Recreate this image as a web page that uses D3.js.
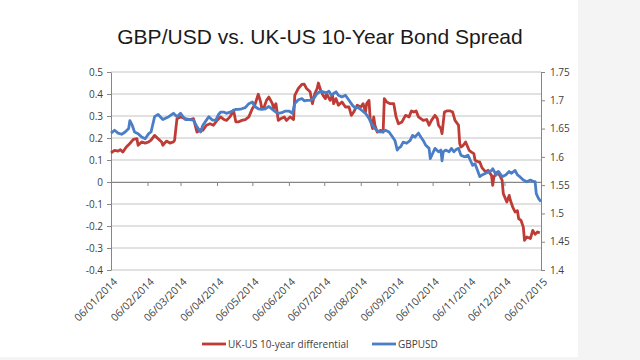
<!DOCTYPE html>
<html><head><meta charset="utf-8">
<script src="https://cdn.jsdelivr.net/npm/d3@7"></script>
<style>body{margin:0;background:#fff} svg{display:block}</style>
</head><body><svg id="c" width="640" height="360"></svg>
<script>
const title = "GBP/USD vs. UK-US 10-Year Bond Spread";
const seriesNames = ["UK-US 10-year differential", "GBPUSD"];
const leftTicks = [0.5, 0.4, 0.3, 0.2, 0.1, 0, -0.1, -0.2, -0.3, -0.4];
const rightTicks = [1.75, 1.7, 1.65, 1.6, 1.55, 1.5, 1.45, 1.4];
const xTickLabels = ["06/01/2014","06/02/2014","06/03/2014","06/04/2014","06/05/2014","06/06/2014","06/07/2014","06/08/2014","06/09/2014","06/10/2014","06/11/2014","06/12/2014","06/01/2015"];

const spreadDates = ["2014-01-06","2014-01-09","2014-01-12","2014-01-14","2014-01-16","2014-01-19","2014-01-22","2014-01-25","2014-01-28","2014-01-29","2014-02-01","2014-02-04","2014-02-07","2014-02-09","2014-02-12","2014-02-15","2014-02-18","2014-02-19","2014-02-22","2014-02-25","2014-02-28","2014-03-01","2014-03-03","2014-03-06","2014-03-10","2014-03-14","2014-03-17","2014-03-20","2014-03-23","2014-03-25","2014-03-28","2014-03-31","2014-04-03","2014-04-06","2014-04-09","2014-04-12","2014-04-14","2014-04-17","2014-04-20","2014-04-22","2014-04-24","2014-04-27","2014-04-30","2014-05-03","2014-05-06","2014-05-08","2014-05-11","2014-05-13","2014-05-14","2014-05-16","2014-05-18","2014-05-20","2014-05-23","2014-05-24","2014-05-26","2014-05-28","2014-05-30","2014-06-02","2014-06-04","2014-06-07","2014-06-10","2014-06-11","2014-06-14","2014-06-17","2014-06-19","2014-06-21","2014-06-24","2014-06-26","2014-06-28","2014-06-30","2014-07-01","2014-07-03","2014-07-05","2014-07-07","2014-07-08","2014-07-11","2014-07-13","2014-07-14","2014-07-16","2014-07-18","2014-07-21","2014-07-24","2014-07-27","2014-07-29","2014-07-31","2014-08-03","2014-08-06","2014-08-08","2014-08-10","2014-08-11","2014-08-13","2014-08-14","2014-08-16","2014-08-17","2014-08-18","2014-08-20","2014-08-23","2014-08-25","2014-08-26","2014-08-28","2014-08-31","2014-09-03","2014-09-05","2014-09-07","2014-09-10","2014-09-13","2014-09-16","2014-09-18","2014-09-20","2014-09-22","2014-09-24","2014-09-26","2014-09-28","2014-10-01","2014-10-03","2014-10-05","2014-10-08","2014-10-10","2014-10-11","2014-10-13","2014-10-14","2014-10-16","2014-10-18","2014-10-21","2014-10-23","2014-10-25","2014-10-28","2014-10-29","2014-10-30","2014-11-01","2014-11-03","2014-11-06","2014-11-08","2014-11-10","2014-11-11","2014-11-14","2014-11-15","2014-11-17","2014-11-20","2014-11-22","2014-11-25","2014-11-26","2014-11-27","2014-11-30","2014-12-02","2014-12-04","2014-12-05","2014-12-08","2014-12-10","2014-12-11","2014-12-13","2014-12-15","2014-12-17","2014-12-18","2014-12-20","2014-12-22","2014-12-23","2014-12-25","2014-12-28","2014-12-30","2015-01-01","2015-01-03","2015-01-05"];
const spreadValues = [0.132,0.144,0.14,0.147,0.136,0.159,0.175,0.194,0.197,0.167,0.182,0.177,0.182,0.19,0.212,0.197,0.182,0.167,0.186,0.177,0.182,0.19,0.288,0.296,0.288,0.284,0.288,0.227,0.238,0.235,0.258,0.265,0.258,0.28,0.296,0.284,0.28,0.296,0.326,0.273,0.273,0.28,0.284,0.296,0.334,0.349,0.399,0.364,0.334,0.341,0.371,0.386,0.356,0.334,0.356,0.28,0.288,0.296,0.28,0.296,0.284,0.394,0.425,0.444,0.445,0.425,0.41,0.356,0.402,0.425,0.45,0.417,0.394,0.379,0.402,0.371,0.394,0.356,0.379,0.349,0.364,0.341,0.341,0.303,0.318,0.349,0.341,0.356,0.318,0.356,0.371,0.288,0.243,0.296,0.258,0.227,0.235,0.227,0.379,0.364,0.356,0.356,0.296,0.265,0.273,0.303,0.296,0.323,0.318,0.323,0.296,0.288,0.28,0.284,0.258,0.28,0.303,0.288,0.258,0.243,0.22,0.318,0.323,0.323,0.318,0.28,0.258,0.175,0.159,0.167,0.182,0.144,0.136,0.129,0.099,0.091,0.091,0.064,0.046,0.053,0.03,-0.015,0.023,0.045,0.03,0.008,-0.053,-0.091,-0.061,-0.083,-0.114,-0.136,-0.13,-0.166,-0.174,-0.205,-0.265,-0.25,-0.257,-0.22,-0.238,-0.227,-0.231];

const gbpusdDates = ["2014-01-06","2014-01-09","2014-01-12","2014-01-15","2014-01-18","2014-01-21","2014-01-22","2014-01-24","2014-01-26","2014-01-29","2014-02-01","2014-02-04","2014-02-07","2014-02-09","2014-02-12","2014-02-15","2014-02-19","2014-02-24","2014-02-28","2014-03-03","2014-03-06","2014-03-10","2014-03-14","2014-03-17","2014-03-20","2014-03-23","2014-03-25","2014-03-28","2014-03-30","2014-04-02","2014-04-05","2014-04-07","2014-04-09","2014-04-12","2014-04-14","2014-04-17","2014-04-22","2014-04-24","2014-04-27","2014-04-30","2014-05-03","2014-05-06","2014-05-08","2014-05-11","2014-05-14","2014-05-17","2014-05-20","2014-05-23","2014-05-26","2014-05-28","2014-05-31","2014-06-03","2014-06-06","2014-06-09","2014-06-11","2014-06-14","2014-06-17","2014-06-19","2014-06-21","2014-06-24","2014-06-27","2014-06-30","2014-07-03","2014-07-05","2014-07-08","2014-07-10","2014-07-12","2014-07-14","2014-07-16","2014-07-18","2014-07-21","2014-07-24","2014-07-27","2014-07-30","2014-08-01","2014-08-04","2014-08-07","2014-08-10","2014-08-13","2014-08-15","2014-08-18","2014-08-21","2014-08-24","2014-08-27","2014-08-30","2014-09-02","2014-09-04","2014-09-06","2014-09-07","2014-09-09","2014-09-11","2014-09-14","2014-09-17","2014-09-19","2014-09-21","2014-09-24","2014-09-26","2014-09-28","2014-09-30","2014-10-03","2014-10-04","2014-10-06","2014-10-08","2014-10-11","2014-10-13","2014-10-14","2014-10-15","2014-10-17","2014-10-20","2014-10-22","2014-10-24","2014-10-26","2014-10-28","2014-10-30","2014-11-02","2014-11-05","2014-11-07","2014-11-09","2014-11-11","2014-11-14","2014-11-15","2014-11-17","2014-11-20","2014-11-22","2014-11-25","2014-11-26","2014-11-29","2014-12-01","2014-12-04","2014-12-07","2014-12-10","2014-12-12","2014-12-15","2014-12-17","2014-12-19","2014-12-22","2014-12-25","2014-12-28","2014-12-31","2015-01-01","2015-01-02","2015-01-04","2015-01-06"];
const gbpusdValues = [1.642,1.647,1.642,1.64,1.644,1.65,1.664,1.656,1.644,1.641,1.635,1.632,1.641,1.644,1.671,1.675,1.666,1.671,1.677,1.671,1.677,1.666,1.666,1.665,1.653,1.644,1.656,1.665,1.671,1.665,1.665,1.674,1.679,1.679,1.677,1.679,1.684,1.684,1.685,1.687,1.694,1.697,1.689,1.685,1.684,1.685,1.689,1.684,1.679,1.677,1.678,1.681,1.681,1.677,1.694,1.701,1.703,1.699,1.7,1.7,1.703,1.712,1.716,1.715,1.713,1.716,1.709,1.712,1.715,1.709,1.706,1.709,1.7,1.691,1.687,1.687,1.682,1.677,1.668,1.659,1.65,1.644,1.644,1.647,1.644,1.635,1.629,1.612,1.615,1.618,1.626,1.624,1.629,1.638,1.635,1.642,1.635,1.629,1.621,1.615,1.597,1.606,1.615,1.609,1.612,1.593,1.609,1.612,1.609,1.615,1.609,1.613,1.615,1.603,1.6,1.603,1.594,1.585,1.588,1.571,1.565,1.568,1.571,1.573,1.576,1.579,1.568,1.574,1.565,1.568,1.574,1.571,1.576,1.568,1.565,1.559,1.556,1.559,1.556,1.556,1.535,1.526,1.521];

const svg = d3.select("#c");
const W = 640, H = 360;
const m = {l: 111, r: 541, t: 72, b: 270};
const font = "'Open Sans', 'Liberation Sans', Arial, sans-serif";
const textCol = "#404040";
const axisCol = "#868686";
const gridCol = "#c3c3c3";
const redCol = "#bf3b35";
const blueCol = "#4a7ec6";

svg.append("rect").attr("width", W).attr("height", H).attr("fill", "#f4f4f4");
svg.append("rect").attr("width", 578).attr("height", 357).attr("fill", "#ffffff");

const parseISO = d3.timeParse("%Y-%m-%d");
const parseTick = d3.timeParse("%d/%m/%Y");
const tickDates = xTickLabels.map(parseTick);

const x = d3.scaleTime().domain([tickDates[0], tickDates[tickDates.length - 1]]).range([m.l, m.r]);
const yL = d3.scaleLinear().domain([-0.4, 0.5]).range([m.b, m.t]);
const yR = d3.scaleLinear().domain([1.4, 1.75]).range([m.b, m.t]);

// title
svg.append("text").attr("x", 320).attr("y", 44).attr("text-anchor", "middle")
  .attr("font-family", "'Liberation Sans', Arial, sans-serif").attr("font-size", 21)
  .attr("fill", "#1a1a1a").text(title);

// gridlines
svg.append("g").selectAll("line").data(leftTicks).join("line")
  .attr("x1", m.l).attr("x2", m.r)
  .attr("y1", d => yL(d)).attr("y2", d => yL(d))
  .attr("stroke", gridCol).attr("stroke-width", 1);

const fmt = d => String(+d.toFixed(2));

// left axis
const gL = svg.append("g").attr("transform", `translate(${m.l},0)`)
  .call(d3.axisLeft(yL).tickValues(leftTicks).tickSize(4).tickSizeOuter(0).tickFormat(fmt));
// right axis
const gR = svg.append("g").attr("transform", `translate(${m.r},0)`)
  .call(d3.axisRight(yR).tickValues(rightTicks).tickSize(4).tickSizeOuter(0).tickFormat(fmt));
// x axis ticks on zero line
const gX = svg.append("g").attr("transform", `translate(0,${yL(0)})`)
  .call(d3.axisBottom(x).tickValues(tickDates).tickSize(4).tickSizeOuter(0).tickFormat(""));
// x labels at bottom
const gXL = svg.append("g").attr("transform", `translate(0,${m.b})`)
  .call(d3.axisBottom(x).tickValues(tickDates).tickSize(0).tickFormat((d, i) => xTickLabels[i]));
gXL.select(".domain").remove();

[gL, gR, gX].forEach(g => {
  g.select(".domain").attr("stroke", axisCol);
  g.selectAll(".tick line").attr("stroke", axisCol);
});
[gL, gR].forEach(g => {
  g.selectAll("text").attr("font-family", font).attr("font-size", 10).attr("fill", textCol);
});
gXL.selectAll("text").attr("font-family", font).attr("font-size", 10.5).attr("fill", textCol)
  .attr("text-anchor", "end").attr("y", 0).attr("dy", "0.35em")
  .attr("transform", "translate(4,10) rotate(-45)");
gL.selectAll("text").attr("x", -8);
gR.selectAll("text").attr("x", 9);

// lines
const spread = spreadDates.map((d, i) => ({d: parseISO(d), v: spreadValues[i]}));
const gbp = gbpusdDates.map((d, i) => ({d: parseISO(d), v: gbpusdValues[i]}));

svg.append("path").datum(spread)
  .attr("d", d3.line().x(p => x(p.d)).y(p => yL(p.v)))
  .attr("fill", "none").attr("stroke", redCol).attr("stroke-width", 2.8).attr("stroke-linejoin", "round");
svg.append("path").datum(gbp)
  .attr("d", d3.line().x(p => x(p.d)).y(p => yR(p.v)))
  .attr("fill", "none").attr("stroke", blueCol).attr("stroke-width", 2.8).attr("stroke-linejoin", "round");

// legend
const legend = svg.append("g").attr("font-family", font).attr("font-size", 10).attr("fill", textCol);
const legendItems = [{name: seriesNames[0], color: redCol, x: 202}, {name: seriesNames[1], color: blueCol, x: 372}];
legendItems.forEach(it => {
  legend.append("line").attr("x1", it.x).attr("x2", it.x + 24).attr("y1", 344).attr("y2", 344)
    .attr("stroke", it.color).attr("stroke-width", 2.8);
  legend.append("text").attr("x", it.x + 26).attr("y", 344).attr("dy", "0.35em").text(it.name);
});
</script></body></html>
